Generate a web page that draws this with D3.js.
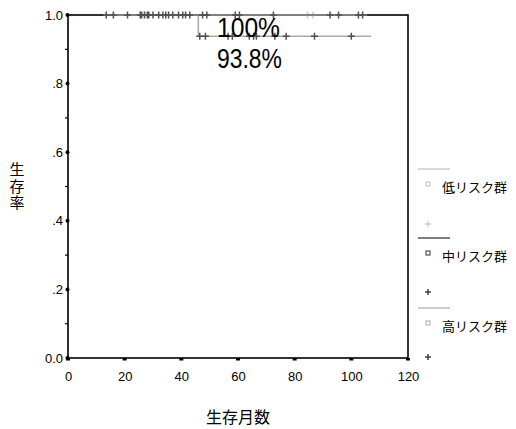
<!DOCTYPE html>
<html>
<head>
<meta charset="utf-8">
<script src="https://cdn.jsdelivr.net/npm/d3@7"></script>
<style>
  body { margin: 0; background: #fff; }
  svg { display: block; }
  .tick text { font-family: "Liberation Sans", Arial, sans-serif; font-size: 13px; fill: #000; }
  .jp { font-family: "Noto Sans CJK JP", sans-serif; fill: #000; }
  .big { font-family: "Liberation Sans", Arial, sans-serif; font-size: 27px; fill: #000; }
</style>
</head>
<body>
<div id="vis"></div>
<script>
const WIDTH = 516;
const HEIGHT = 429;
const MARGINS = {left: 68, right: 108, top: 15, bottom: 71};

// data (months, survival)
const groups = ["低リスク群", "中リスク群", "高リスク群"];
const lowSteps = [{t: 84.5, s: 1}];
const lowEnd = 86.5;
const lowCensor = [84.5, 86.5];
const midSteps = [{t: 12.5, s: 1}];
const midEnd = 105.5;
const midCensor = [13.5, 16, 21, 25.5, 26, 27, 28, 28.5, 30, 32, 33.5, 34.5, 35.5, 37, 39, 40.5,
  41.5, 43, 47.5, 49, 59, 60.5, 72.5, 92.5, 95.5, 102.5, 104];
const highSteps = [{t: 14, s: 1}, {t: 46, s: 0.938}];
const highEnd = 107;
const highCensor = [46.5, 48.5, 56.5, 58, 64, 65.5, 66.5, 73, 77, 87, 100];
const xTicks = [0, 20, 40, 60, 80, 100, 120];
const yTicks = [0, 0.2, 0.4, 0.6, 0.8, 1.0];
const yTickLabels = ["0.0", ".2", ".4", ".6", ".8", "1.0"];
const yMinor = [0.1, 0.3, 0.5, 0.7, 0.9];
const notes = [{text: "100%", s: 1}, {text: "93.8%", s: 0.938}];

const VIS_W = WIDTH - MARGINS.left - MARGINS.right;
const VIS_H = HEIGHT - MARGINS.top - MARGINS.bottom;

const svg = d3.select("#vis").append("svg")
  .attr("width", WIDTH)
  .attr("height", HEIGHT);

const x = d3.scaleLinear().domain([0, 120]).range([MARGINS.left, MARGINS.left + VIS_W]);
const y = d3.scaleLinear().domain([0, 1]).range([MARGINS.top + VIS_H, MARGINS.top]);

// frame
svg.append("rect")
  .attr("x", x(0)).attr("y", y(1))
  .attr("width", x(120) - x(0)).attr("height", y(0) - y(1))
  .attr("fill", "none").attr("stroke", "#000").attr("stroke-width", 1.6);

// axes (labels only, marks drawn below)
svg.append("g")
  .attr("transform", `translate(0,${y(0)})`)
  .call(d3.axisBottom(x).tickValues(xTicks).tickSize(0).tickPadding(14))
  .call(g => g.select(".domain").remove());

svg.append("g")
  .attr("transform", `translate(${x(0)},0)`)
  .call(d3.axisLeft(y).tickValues(yTicks).tickSize(0).tickPadding(5)
    .tickFormat((d, i) => yTickLabels[i]))
  .call(g => g.select(".domain").remove());

svg.selectAll(".xdot").data(xTicks).enter().append("rect")
  .attr("x", d => x(d) - 2).attr("y", y(0))
  .attr("width", 4).attr("height", 2.5).attr("fill", "#000");

svg.selectAll(".ydot").data(yTicks).enter().append("circle")
  .attr("cx", x(0) - 0.5).attr("cy", d => y(d))
  .attr("r", 2).attr("fill", "#000");

svg.selectAll(".yminor").data(yMinor).enter().append("line")
  .attr("x1", x(0) - 3).attr("x2", x(0))
  .attr("y1", d => y(d)).attr("y2", d => y(d))
  .attr("stroke", "#000").attr("stroke-width", 1.2);

// axis titles
svg.append("text").attr("class", "jp")
  .attr("x", (x(0) + x(120)) / 2).attr("y", 423)
  .attr("text-anchor", "middle").attr("font-size", 16)
  .text("生存月数");

svg.append("text").attr("class", "jp")
  .attr("x", 17).attr("y", 162)
  .attr("writing-mode", "vertical-rl")
  .attr("letter-spacing", 1.5)
  .attr("font-size", 15)
  .text("生存率");

// km curves
const stepLine = (steps, end) => {
  const pts = steps.slice();
  pts.push({t: end, s: steps[steps.length - 1].s});
  return d3.line().curve(d3.curveStepAfter).x(d => x(d.t)).y(d => y(d.s))(pts);
};
const survAt = (steps, t) => {
  let s = 1;
  steps.forEach(d => { if (d.t <= t) s = d.s; });
  return s;
};
const plus = (g, px, py, col, h) => {
  g.append("path")
    .attr("d", `M${px - h},${py}H${px + h}M${px},${py - h}V${py + h}`)
    .attr("stroke", col).attr("stroke-width", 1.5).attr("fill", "none");
};

const curves = [
  {steps: lowSteps, end: lowEnd, censor: lowCensor, line: "#cccccc", mark: "#c8c8c8", width: 1.5},
  {steps: highSteps, end: highEnd, censor: highCensor, line: "#aaaaaa", mark: "#505050", width: 1.5},
  {steps: midSteps, end: midEnd, censor: midCensor, line: "#808080", mark: "#505050", width: 2}
];

curves.forEach(c => {
  const g = svg.append("g");
  g.append("path")
    .attr("d", stepLine(c.steps, c.end))
    .attr("fill", "none").attr("stroke", c.line).attr("stroke-width", c.width);
  c.censor.forEach(t => plus(g, x(t), y(survAt(c.steps, t)), c.mark, 3.5));
});

// annotations
svg.selectAll(".note").data(notes).enter().append("text")
  .attr("class", "big")
  .attr("x", 217)
  .attr("y", d => y(d.s) + (d.s === 1 ? 22 : 32))
  .attr("textLength", d => d.s === 1 ? 63 : 65)
  .attr("lengthAdjust", "spacingAndGlyphs")
  .text(d => d.text);

// legend
const legSquare = ["#c8c8c8", "#505050", "#b8b8b8"];
const legLine = ["#cccccc", "#555555", "#bbbbbb"];
const legPlus = ["#cccccc", "#404040", "#404040"];
const legTop = [169, 238, 308];
const legPlusY = [224, 292, 357];

groups.forEach((name, i) => {
  const g = svg.append("g");
  g.append("line")
    .attr("x1", 418).attr("x2", 450)
    .attr("y1", legTop[i]).attr("y2", legTop[i])
    .attr("stroke", legLine[i]).attr("stroke-width", 1.5);
  g.append("rect")
    .attr("x", 426).attr("y", legTop[i] + 13)
    .attr("width", 4).attr("height", 4)
    .attr("fill", "none").attr("stroke", legSquare[i]).attr("stroke-width", 1.2);
  g.append("text").attr("class", "jp")
    .attr("x", 442).attr("y", legTop[i] + 23)
    .attr("font-size", 13)
    .text(name);
  plus(g, 428, legPlusY[i], legPlus[i], 3);
});
</script>
</body>
</html>
